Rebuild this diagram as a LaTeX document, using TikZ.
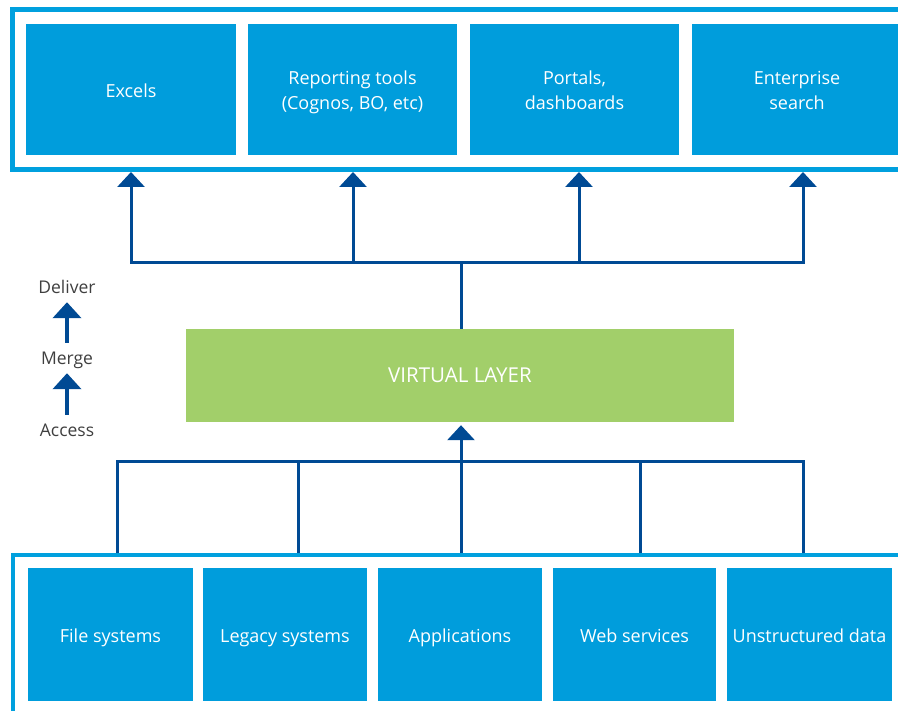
\documentclass[tikz,border=0pt]{standalone}
\usepackage{fontspec}
\setmainfont{Open Sans}
\usepackage{tikz}
\usetikzlibrary{arrows.meta}
\usetikzlibrary{positioning}
\definecolor{boxblue}{HTML}{009DDC}
\definecolor{frameblue}{HTML}{00A0DE}
\definecolor{linkblue}{HTML}{004A94}
\definecolor{layergreen}{HTML}{A2CF6A}
\definecolor{labelgray}{HTML}{3F3F3F}

\begin{document}
\begin{tikzpicture}[x=1pt,y=-1pt,
	box/.style={fill=boxblue,text=white,inner sep=0pt,align=center,text height=16pt,text depth=0pt,font=\fontsize{18}{25}\selectfont},
	twoline/.style={text height=40pt},
	frame/.style={draw=frameblue,inner sep=0pt},
	link/.style={draw=linkblue,line width=3pt},
	tip/.style={link,-{Triangle[width=27pt,length=15pt]}},
	stage/.style={text=labelgray,inner sep=0pt,anchor=base,text height=12pt,text depth=0pt,font=\fontsize{17.5}{20}\selectfont},
	stagetip/.style={draw=linkblue,line width=4pt,-{Triangle[width=28pt,length=16pt]},shorten <=10pt,shorten >=8pt},
	]
	\useasboundingbox (0,0) rectangle (898,711);
	\clip (0,0) rectangle (898,711);
	
	% consumers
	\node[frame,line width=5pt,minimum width=902.5pt,minimum height=159.5pt] (outtop) at (463.75,89.75) {};
	\node[box,minimum width=210pt,minimum height=131pt] (excels) at (131,89.5) {Excels};
	\node[box,twoline,minimum width=209pt,minimum height=131pt] (reporting) at (352.5,89.5) {Reporting tools\\(Cognos, BO, etc)};
	\node[box,twoline,minimum width=209pt,minimum height=131pt] (portals) at (574.5,89.5) {Portals,\\dashboards};
	\node[box,twoline,minimum width=210pt,minimum height=131pt] (search) at (797,89.5) {Enterprise\\search};
	
	% sources
	\node[frame,line width=4pt,minimum width=902.5pt,minimum height=175pt] (outbot) at (463.75,642.5) {};
	\node[box,minimum width=165pt,minimum height=133pt] (files) at (110.5,634.5) {File systems};
	\node[box,minimum width=164pt,minimum height=133pt] (legacy) at (285,634.5) {Legacy systems};
	\node[box,minimum width=164pt,minimum height=133pt] (apps) at (460,634.5) {Applications};
	\node[box,minimum width=163pt,minimum height=133pt] (web) at (634.5,634.5) {Web services};
	\node[box,minimum width=165pt,minimum height=133pt] (unstructured) at (809.5,634.5) {Unstructured data};
	
	\node[fill=layergreen,text=white,minimum width=548pt,minimum height=93pt,font=\fontsize{20.5}{24}\selectfont] (virtual) at (460,375.5) {VIRTUAL LAYER};
	
	\coordinate (outbus) at (461,263);
	\coordinate (inbus) at (461,462);
	
	\draw[link] (virtual.north -| outbus) -- (outbus);
	\draw[tip] (outbus) -| (excels.south |- outtop.south);
	\draw[tip] (outbus) -| ([xshift=0.5pt]reporting.south |- outtop.south);
	\draw[tip] (outbus) -| ([xshift=4.5pt]portals.south |- outtop.south);
	\draw[tip] (outbus) -| ([xshift=6pt]search.south |- outtop.south);
	
	\draw[link] ([xshift=6.5pt]files.north |- outbot.north) |- (inbus);
	\draw[link] ([xshift=13pt]legacy.north |- outbot.north) |- (inbus);
	\draw[link] ([xshift=5.5pt]web.north |- outbot.north) |- (inbus);
	\draw[link] ([xshift=-6.5pt]unstructured.north |- outbot.north) |- (inbus);
	\draw[tip,shorten >=3pt] (inbus |- outbot.north) -- (inbus |- virtual.south);
	
	% stages
	\node[stage] (deliver) at (67,294) {Deliver};
	\node[stage] (merge) at (67,365) {Merge};
	\node[stage] (access) at (67,437) {Access};
	\draw[stagetip] (merge.north) -- (deliver.south);
	\draw[stagetip] (access.north) -- (merge.south);
\end{tikzpicture}
\end{document}
